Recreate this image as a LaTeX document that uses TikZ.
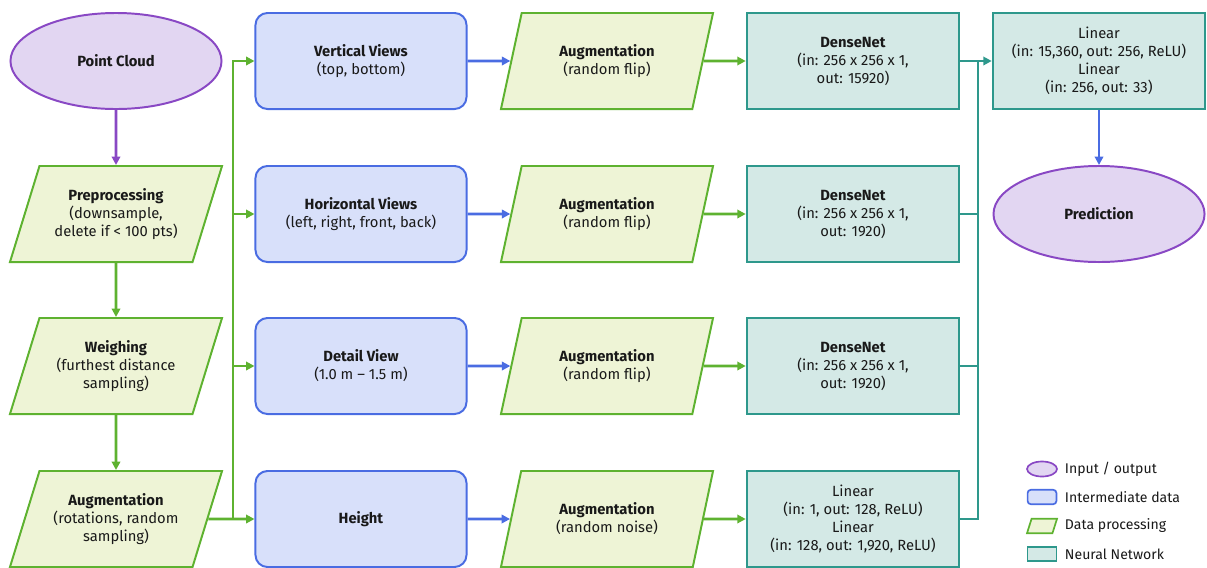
\documentclass[tikz,border=0pt]{standalone}
\usepackage{fontspec}
\setmainfont{Fira Sans}
\usetikzlibrary{shapes.geometric,arrows.meta}

\definecolor{ioline}{RGB}{137,72,196}
\definecolor{iofill}{RGB}{226,214,242}
\definecolor{imline}{RGB}{74,108,226}
\definecolor{imfill}{RGB}{216,224,250}
\definecolor{dpline}{RGB}{94,178,48}
\definecolor{dpfill}{RGB}{238,244,214}
\definecolor{nnline}{RGB}{46,152,140}
\definecolor{nnfill}{RGB}{212,233,230}

\tikzset{
	every node/.style={font=\fontsize{10.5}{12.8}\selectfont, text=black!90},
	iobox/.style={ellipse, draw=ioline, fill=iofill, line width=1.4pt, minimum width=5.275cm, minimum height=2.4cm, align=center},
	imbox/.style={rectangle, rounded corners=0.3cm, draw=imline, fill=imfill, line width=1.4pt, minimum width=5.275cm, minimum height=2.4cm, align=center},
	dpbox/.style={trapezium, trapezium left angle=64, trapezium right angle=116, trapezium stretches body=true, draw=dpline, fill=dpfill, line width=1.4pt, minimum width=5.3cm, minimum height=2.4cm, align=center},
	nnbox/.style={rectangle, draw=nnline, fill=nnfill, line width=1.8pt, minimum width=5.3cm, minimum height=2.4cm, align=center},
	arr/.style={line width=2pt, -{Triangle[length=6pt,width=6pt]}},
	legtext/.style={anchor=west, font=\fontsize{10}{12}\selectfont},
}

\begin{document}
\begin{tikzpicture}[x=0.025cm, y=-0.025cm]
	\useasboundingbox (0,0) rectangle (1207,567);
	% column 1
	\node[iobox] (cloud) at (116,61) {\textbf{Point Cloud}};
	\node[dpbox] (prep) at (116,214) {\textbf{Preprocessing}\\(downsample,\\delete if < 100 pts)};
	\node[dpbox] (weigh) at (116,366) {\textbf{Weighing}\\(furthest distance\\sampling)};
	\node[dpbox] (augin) at (116,519) {\textbf{Augmentation}\\(rotations, random\\sampling)};
	% column 2
	\node[imbox] (vert) at (361,61) {\textbf{Vertical Views}\\(top, bottom)};
	\node[imbox] (horiz) at (361,214) {\textbf{Horizontal Views}\\(left, right, front, back)};
	\node[imbox] (detail) at (361,366) {\textbf{Detail View}\\(1.0 m -- 1.5 m)};
	\node[imbox] (height) at (361,519) {\textbf{Height}};
	% column 3
	\node[dpbox] (augv) at (607,61) {\textbf{Augmentation}\\(random flip)};
	\node[dpbox] (augh) at (607,214) {\textbf{Augmentation}\\(random flip)};
	\node[dpbox] (augd) at (607,366) {\textbf{Augmentation}\\(random flip)};
	\node[dpbox] (augz) at (607,519) {\textbf{Augmentation}\\(random noise)};
	% column 4
	\node[nnbox] (densev) at (853,61) {\textbf{DenseNet}\\(in: 256 x 256 x 1,\\out: 15920)};
	\node[nnbox] (denseh) at (853,214) {\textbf{DenseNet}\\(in: 256 x 256 x 1,\\out: 1920)};
	\node[nnbox] (densed) at (853,366) {\textbf{DenseNet}\\(in: 256 x 256 x 1,\\out: 1920)};
	\node[nnbox] (linz) at (853,519) {Linear\\(in: 1, out: 128, ReLU)\\Linear\\(in: 128, out: 1,920, ReLU)};
	% column 5
	\node[nnbox] (head) at (1099,61) {Linear\\(in: 15,360, out: 256, ReLU)\\Linear\\(in: 256, out: 33)};
	\node[iobox] (pred) at (1099,214) {\textbf{Prediction}};

	% buses
	\coordinate (busl) at (233,519);
	\coordinate (busr) at (978,61);

	\draw[arr, ioline] (cloud) -- (prep);
	\draw[arr, dpline] (prep) -- (weigh);
	\draw[arr, dpline] (weigh) -- (augin);
	\draw[arr, dpline] (augin.east) -- (height.west);
	\foreach \n in {vert,horiz,detail}
		\draw[arr, dpline] (busl) |- (\n.west);
	\foreach \a/\b in {vert/augv,horiz/augh,detail/augd,height/augz}
		\draw[arr, imline] (\a.east) -- (\b.west);
	\foreach \a/\b in {augv/densev,augh/denseh,augd/densed,augz/linz}
		\draw[arr, dpline] (\a.east) -- (\b.west);
	\foreach \n in {denseh,densed,linz}
		\draw[line width=2pt, nnline] (\n.east) -| (busr);
	\draw[arr, nnline] (densev.east) -- (head.west);
	\draw[arr, imline] (head) -- (pred);

	% legend
	\node[iobox, minimum width=0.75cm, minimum height=0.375cm, line width=1.2pt] (legio) at (1042,469) {};
	\node[imbox, minimum width=0.72cm, minimum height=0.36cm, rounded corners=0.08cm, line width=1.2pt] (legim) at (1042,497) {};
	\node[dpbox, minimum width=0.75cm, minimum height=0.36cm, line width=1.2pt] (legdp) at (1042,526) {};
	\node[nnbox, minimum width=0.72cm, minimum height=0.36cm, line width=1.2pt] (legnn) at (1042,554) {};
	\node[legtext] (legiot) at (1060,469) {Input / output};
	\node[legtext] (legimt) at (1060,497) {Intermediate data};
	\node[legtext] (legdpt) at (1060,526) {Data processing};
	\node[legtext] (legnnt) at (1060,554) {Neural Network};
\end{tikzpicture}
\end{document}
